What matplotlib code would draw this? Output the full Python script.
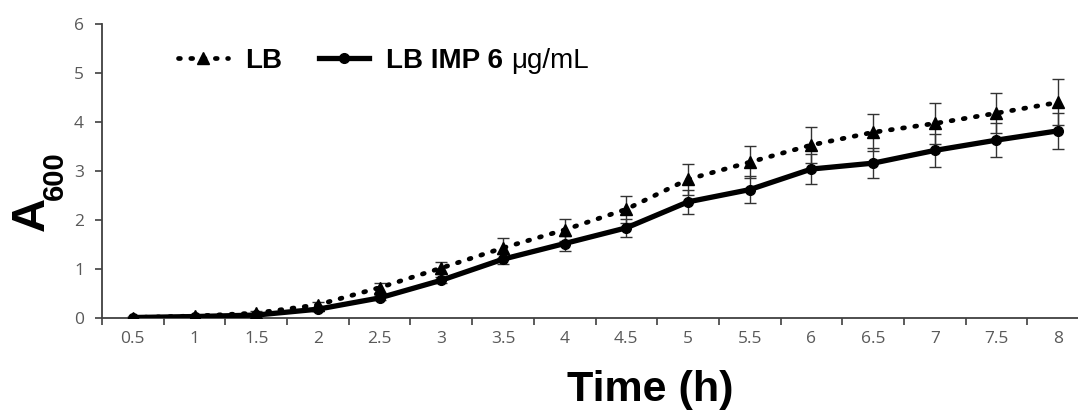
import matplotlib
matplotlib.use("Agg")
import matplotlib.pyplot as plt
import numpy as np

time_labels = ['0.5', '1', '1.5', '2', '2.5', '3', '3.5', '4', '4.5', '5',
               '5.5', '6', '6.5', '7', '7.5', '8']
lb = [0.01, 0.04, 0.10, 0.27, 0.62, 1.02, 1.43, 1.80, 2.22, 2.83,
      3.18, 3.53, 3.79, 3.97, 4.18, 4.40]
lb_err = [0.02, 0.02, 0.04, 0.06, 0.10, 0.12, 0.20, 0.22, 0.28, 0.31,
          0.33, 0.37, 0.38, 0.41, 0.41, 0.47]
imp = [0.01, 0.03, 0.06, 0.18, 0.41, 0.77, 1.20, 1.52, 1.84, 2.37,
       2.62, 3.04, 3.16, 3.42, 3.63, 3.82]
imp_err = [0.01, 0.01, 0.02, 0.03, 0.05, 0.06, 0.10, 0.16, 0.19, 0.25,
           0.27, 0.31, 0.30, 0.34, 0.34, 0.37]
y_ticks = [0, 1, 2, 3, 4, 5, 6]

W, H = 1078, 411
fig = plt.figure(figsize=(W / 100, H / 100), dpi=100)
left, right, top, bottom = 102, 1089, 24, 318
ax = fig.add_axes([left / W, 1 - bottom / H, (right - left) / W, (bottom - top) / H])

x = np.arange(len(time_labels))
axis_col = '#404040'
err_col = '#333333'

ax.errorbar(x, lb, yerr=lb_err, fmt='none', ecolor=err_col, elinewidth=1.0,
            capsize=4, capthick=1.0, zorder=2)
ax.errorbar(x, imp, yerr=imp_err, fmt='none', ecolor=err_col, elinewidth=1.0,
            capsize=4, capthick=1.0, zorder=2)
l1, = ax.plot(x, lb, color='black', lw=3.4, linestyle=(0, (0.4, 2.2)),
              dash_capstyle='round', marker='^', markersize=8, zorder=3)
l2, = ax.plot(x, imp, color='black', lw=3.8, linestyle='-',
              marker='o', markersize=7, zorder=4)

ax.set_xlim(-0.5, len(time_labels) - 0.5)
ax.set_ylim(0, 6)
ax.set_xticks(x)
ax.set_xticklabels(time_labels)
ax.set_xticks(np.arange(-0.5, len(time_labels), 1.0), minor=True)
ax.tick_params(axis='x', which='major', length=0, pad=9, labelsize=12.5,
               labelcolor='#595959')
ax.tick_params(axis='x', which='minor', length=5, width=1.2, color=axis_col,
               direction='out')
ax.set_yticks(y_ticks)
ax.tick_params(axis='y', length=5, width=1.2, color=axis_col, direction='out',
               pad=8, labelsize=12.5, labelcolor='#595959')
for lab in ax.get_xticklabels() + ax.get_yticklabels():
    lab.set_fontfamily('Open Sans')

for s in ['top', 'right']:
    ax.spines[s].set_visible(False)
for s in ['left', 'bottom']:
    ax.spines[s].set_color(axis_col)
    ax.spines[s].set_linewidth(1.3)

ax.set_xlabel('Time (h)', fontsize=31, fontweight='bold',
              fontfamily='Liberation Sans', va='baseline', ha='center')
ax.xaxis.set_label_coords((650 - left) / (right - left), -(401 - bottom) / (bottom - top))
ax.set_ylabel('A', fontsize=34, fontweight='bold',
              fontfamily='Liberation Sans', va='center', ha='center')
ax.yaxis.set_label_coords((32 - left) / (right - left), (bottom - 214) / (bottom - top))
fig.text(55 / W, 1 - 176 / H, '600', rotation=90, fontsize=21, fontweight='bold',
         fontfamily='Liberation Sans', va='center', ha='center')

leg = ax.legend([l1, l2], ['LB', 'LB IMP 6'], ncol=2, frameon=False,
                loc='center left', bbox_to_anchor=(178 / W, 1 - 61 / H),
                bbox_transform=fig.transFigure, borderpad=0, borderaxespad=0,
                handlelength=1.8, handletextpad=0.6, columnspacing=1.35,
                prop={'family': 'Liberation Sans', 'weight': 'bold', 'size': 20})

fig.canvas.draw()
t2 = leg.get_texts()[1]
bb = t2.get_window_extent()
fig.text(bb.x1 + 8, (bb.y0 + bb.y1) / 2, 'μg/mL', transform=None,
         fontsize=20, fontfamily='Liberation Sans', va='center', ha='left')

fig.savefig('out.png', dpi=100)
